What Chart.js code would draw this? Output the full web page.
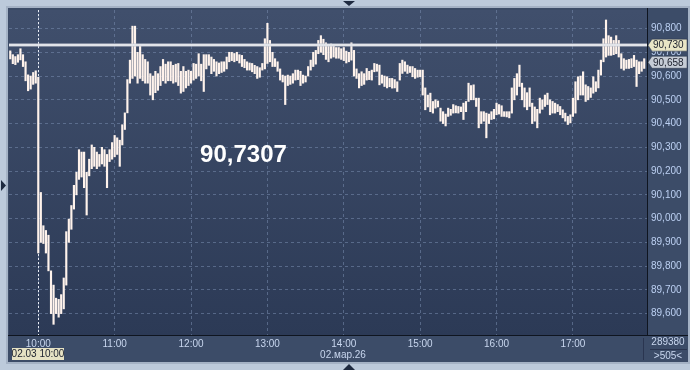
<!DOCTYPE html>
<html>
<head>
<meta charset="utf-8">
<script src="https://cdn.jsdelivr.net/npm/chart.js@4.4.1/dist/chart.umd.min.js"></script>
<style>
  html, body { margin: 0; padding: 0; background: #bccadb; }
  canvas { display: block; }
</style>
</head>
<body>
<canvas id="chart" width="690" height="370"></canvas>
<script>
// minutes counted from 10:00, one bar every 2 minutes
const firstBarMinute = -22;
const barStep = 2;

const lows = [
  90.672, 90.652, 90.648, 90.658, 90.668, 90.640, 90.580, 90.538, 90.545, 90.565,
  90.570, 89.855, 89.900, 89.895, 89.855, 89.780, 89.600, 89.555, 89.600, 89.585,
  89.600, 89.620, 89.720, 89.900, 89.955, 90.040, 90.100, 90.165, 90.175, 90.130,
  90.015, 90.180, 90.210, 90.220, 90.210, 90.220, 90.230, 90.220, 90.130, 90.240,
  90.250, 90.260, 90.270, 90.220, 90.310, 90.375, 90.445, 90.570, 90.590, 90.600,
  90.570, 90.590, 90.580, 90.570, 90.570, 90.520, 90.500, 90.530, 90.540, 90.560,
  90.580, 90.570, 90.580, 90.580, 90.570, 90.575, 90.560, 90.528, 90.535, 90.550,
  90.560, 90.570, 90.583, 90.590, 90.600, 90.580, 90.535, 90.630, 90.645, 90.610,
  90.620, 90.600, 90.610, 90.615, 90.620, 90.630, 90.660, 90.665, 90.660, 90.665,
  90.655, 90.640, 90.635, 90.625, 90.625, 90.618, 90.610, 90.590, 90.595, 90.625,
  90.630, 90.653, 90.660, 90.640, 90.640, 90.620, 90.583, 90.575, 90.480, 90.560,
  90.565, 90.570, 90.583, 90.585, 90.560, 90.570, 90.575, 90.600, 90.625, 90.640,
  90.650, 90.694, 90.700, 90.690, 90.670, 90.660, 90.675, 90.680, 90.675, 90.675,
  90.670, 90.665, 90.655, 90.660, 90.667, 90.600, 90.590, 90.550, 90.560, 90.565,
  90.583, 90.585, 90.583, 90.618, 90.620, 90.563, 90.570, 90.556, 90.550, 90.555,
  90.549, 90.550, 90.535, 90.583, 90.611, 90.620, 90.611, 90.615, 90.597, 90.590,
  90.595, 90.597, 90.520, 90.458, 90.470, 90.450, 90.444, 90.465, 90.470, 90.410,
  90.400, 90.390, 90.430, 90.435, 90.444, 90.445, 90.444, 90.450, 90.417, 90.450,
  90.493, 90.500, 90.500, 90.472, 90.382, 90.400, 90.410, 90.340, 90.400, 90.417,
  90.420, 90.437, 90.440, 90.430, 90.430, 90.428, 90.424, 90.444, 90.500, 90.520,
  90.556, 90.500, 90.470, 90.458, 90.472, 90.400, 90.410, 90.382, 90.444, 90.460,
  90.472, 90.480, 90.437, 90.444, 90.444, 90.450, 90.437, 90.424, 90.410, 90.396,
  90.403, 90.430, 90.444, 90.500, 90.520, 90.520, 90.493, 90.500, 90.510, 90.528,
  90.535, 90.550, 90.604, 90.660, 90.680, 90.687, 90.687, 90.690, 90.694, 90.680,
  90.632, 90.625, 90.632, 90.632, 90.635, 90.640, 90.556, 90.610, 90.620, 90.632
];

const highs = [
  90.706, 90.690, 90.682, 90.690, 90.715, 90.690, 90.660, 90.605, 90.600, 90.615,
  90.622, 90.595, 90.110, 89.970, 89.950, 89.930, 89.780, 89.720, 89.665, 89.660,
  89.680, 89.750, 89.945, 89.998, 90.055, 90.140, 90.195, 90.290, 90.280, 90.280,
  90.195, 90.250, 90.310, 90.300, 90.280, 90.270, 90.300, 90.290, 90.270, 90.290,
  90.320, 90.350, 90.340, 90.330, 90.395, 90.445, 90.585, 90.667, 90.810, 90.810,
  90.700, 90.730, 90.690, 90.670, 90.660, 90.610, 90.600, 90.620, 90.610, 90.640,
  90.670, 90.650, 90.660, 90.660, 90.645, 90.650, 90.653, 90.620, 90.640, 90.620,
  90.625, 90.620, 90.653, 90.650, 90.694, 90.650, 90.690, 90.690, 90.690, 90.680,
  90.670, 90.660, 90.655, 90.660, 90.660, 90.680, 90.700, 90.700, 90.695, 90.700,
  90.690, 90.687, 90.670, 90.660, 90.655, 90.653, 90.645, 90.640, 90.635, 90.653,
  90.757, 90.822, 90.750, 90.700, 90.673, 90.660, 90.630, 90.604, 90.600, 90.604,
  90.600, 90.610, 90.625, 90.625, 90.620, 90.604, 90.600, 90.640, 90.667, 90.700,
  90.708, 90.750, 90.770, 90.755, 90.740, 90.730, 90.735, 90.730, 90.720, 90.720,
  90.715, 90.720, 90.705, 90.700, 90.740, 90.708, 90.630, 90.610, 90.618, 90.610,
  90.632, 90.620, 90.625, 90.653, 90.650, 90.646, 90.604, 90.600, 90.597, 90.590,
  90.590, 90.585, 90.576, 90.653, 90.667, 90.660, 90.646, 90.640, 90.640, 90.632,
  90.625, 90.625, 90.625, 90.550, 90.520, 90.528, 90.493, 90.500, 90.495, 90.465,
  90.450, 90.440, 90.465, 90.460, 90.480, 90.475, 90.472, 90.470, 90.486, 90.493,
  90.570, 90.560, 90.563, 90.507, 90.507, 90.450, 90.450, 90.444, 90.440, 90.450,
  90.460, 90.486, 90.480, 90.475, 90.450, 90.450, 90.450, 90.550, 90.590, 90.610,
  90.646, 90.570, 90.550, 90.530, 90.550, 90.486, 90.470, 90.460, 90.507, 90.500,
  90.520, 90.528, 90.500, 90.493, 90.486, 90.480, 90.472, 90.458, 90.444, 90.430,
  90.437, 90.507, 90.576, 90.597, 90.600, 90.618, 90.563, 90.556, 90.550, 90.597,
  90.576, 90.625, 90.667, 90.757, 90.836, 90.770, 90.764, 90.750, 90.770, 90.750,
  90.694, 90.673, 90.667, 90.670, 90.673, 90.687, 90.667, 90.660, 90.660, 90.673
];

const hourTicks = [0, 60, 120, 180, 240, 300, 360, 420];
const hourLabels = ['10:00', '11:00', '12:00', '13:00', '14:00', '15:00', '16:00', '17:00'];
const priceTicks = [89.6, 89.7, 89.8, 89.9, 90.0, 90.1, 90.2, 90.3, 90.4, 90.5, 90.6, 90.7, 90.8];

const levelPrice = 90.730;
const lastPrice = 90.658;
const bigValue = '90,7307';
const dateLabel = '02.мар.26';
const cursorLabel = '02.03 10:00';
const volumeText = '289380';
const countText = '>505<';

const FONT = "'Liberation Sans', Arial, sans-serif";
const fmt = v => v.toFixed(3).replace('.', ',');

const bars = lows.map((lo, i) => ({ x: firstBarMinute + i * barStep, y: [lo, highs[i]] }));

function tri(c, pts, color) {
  c.fillStyle = color;
  c.beginPath();
  c.moveTo(pts[0], pts[1]);
  c.lineTo(pts[2], pts[3]);
  c.lineTo(pts[4], pts[5]);
  c.closePath();
  c.fill();
}

function priceTag(c, y, text, bg) {
  c.fillStyle = bg;
  c.beginPath();
  c.moveTo(648, y);
  c.lineTo(652, y - 6);
  c.lineTo(687, y - 6);
  c.lineTo(687, y + 6);
  c.lineTo(652, y + 6);
  c.closePath();
  c.fill();
  c.strokeStyle = 'rgba(40,50,70,0.5)';
  c.lineWidth = 1;
  c.stroke();
  c.fillStyle = '#1b1f2c';
  c.font = '10px ' + FONT;
  c.textAlign = 'left';
  c.textBaseline = 'middle';
  c.fillText(text, 653, y + 0.5);
}

const frame = {
  id: 'frame',
  beforeDraw(chart) {
    const c = chart.ctx, a = chart.chartArea;
    c.save();
    c.fillStyle = '#bccadb';
    c.fillRect(0, 0, 690, 370);
    c.fillStyle = '#a4b2c5';
    c.fillRect(6, 6, 684, 358);
    c.fillStyle = '#3c4c68';
    c.fillRect(8, 8, 680, 354);
    const g = c.createLinearGradient(0, a.top, 0, a.bottom);
    g.addColorStop(0, '#404f6c');
    g.addColorStop(1, '#2c3a56');
    c.fillStyle = g;
    c.fillRect(a.left, a.top, a.right - a.left, a.bottom - a.top);
    c.restore();
  },
  beforeDatasetsDraw(chart) {
    const c = chart.ctx, a = chart.chartArea;
    const x = Math.round(chart.scales.x.getPixelForValue(0)) + 0.5;
    c.save();
    c.strokeStyle = '#e8ecf4';
    c.lineWidth = 1;
    c.setLineDash([2, 2]);
    c.beginPath();
    c.moveTo(x, a.top);
    c.lineTo(x, a.bottom);
    c.stroke();
    c.restore();
  },
  afterDraw(chart) {
    const c = chart.ctx, a = chart.chartArea, ys = chart.scales.y;
    c.save();
    // level line
    const ly = ys.getPixelForValue(levelPrice);
    c.fillStyle = '#c4c8d2';
    c.fillRect(a.left, Math.round(ly) - 1.5, a.right - a.left, 3);
    c.fillStyle = '#ffffff';
    c.fillRect(a.left, Math.round(ly) - 0.5, a.right - a.left, 1);

    // separators
    c.fillStyle = '#0f1520';
    c.fillRect(a.right, 8, 1, a.bottom - 8);
    c.fillRect(8, a.bottom, 680, 1);
    c.fillStyle = '#2a3550';
    c.fillRect(643, a.bottom + 3, 1, 22);
    c.fillRect(650, 349, 37, 1);

    // price tags on the axis
    priceTag(c, ys.getPixelForValue(lastPrice), fmt(lastPrice), '#c6ccd6');
    priceTag(c, ly, fmt(levelPrice), '#e9e5c6');

    // big value
    c.fillStyle = '#ffffff';
    c.font = 'bold 24px "Liberation Sans", Arial, sans-serif';
    c.textAlign = 'center';
    c.textBaseline = 'middle';
    c.fillText(bigValue, 243.5, 155);

    // bottom texts
    c.font = '10px ' + FONT;
    c.fillStyle = '#c8d6ee';
    c.fillText(dateLabel, 343, 355.5);
    c.fillText(volumeText, 668, 342.5);
    c.fillText(countText, 668, 356);

    c.fillStyle = '#e6e2c4';
    c.fillRect(12, 348, 52, 12);
    c.fillStyle = '#1b1f2c';
    c.fillText(cursorLabel, 38, 354.5);

    // small edge markers
    tri(c, [343, 1, 355, 1, 349, 6], '#1e2a40');
    tri(c, [1, 180, 1, 191, 6, 185.5], '#1e2a40');
    tri(c, [343, 370, 355, 370, 349, 364], '#1e2a40');
    c.restore();
  }
};

const gridColor = 'rgba(120,140,175,0.55)';

new Chart(document.getElementById('chart'), {
  type: 'bar',
  data: {
    datasets: [{
      data: bars,
      backgroundColor: '#fff3ec',
      borderWidth: 0,
      barThickness: 1.5,
      grouped: false
    }]
  },
  options: {
    responsive: false,
    animation: false,
    devicePixelRatio: 1,
    layout: { padding: { left: 9, top: 8, right: 2, bottom: 8 } },
    plugins: { legend: { display: false }, tooltip: { enabled: false } },
    scales: {
      x: {
        type: 'linear',
        min: -23,
        max: 478.2,
        offset: false,
        afterBuildTicks: s => { s.ticks = hourTicks.map(v => ({ value: v })); },
        afterFit: s => { s.height = 27; },
        grid: { color: gridColor, offset: false, drawTicks: false },
        border: { display: false, dash: [3, 3] },
        ticks: {
          color: '#c8d6ee',
          font: { family: FONT, size: 10 },
          padding: 3,
          maxRotation: 0,
          autoSkip: false,
          callback: (v, i) => hourLabels[i]
        }
      },
      y: {
        position: 'right',
        min: 89.51,
        max: 90.878,
        afterBuildTicks: s => { s.ticks = priceTicks.map(v => ({ value: v })); },
        afterFit: s => { s.width = 41; },
        grid: { color: gridColor, drawTicks: false },
        border: { display: false, dash: [3, 3] },
        ticks: {
          color: '#bcd0f2',
          font: { family: FONT, size: 10 },
          padding: 4,
          callback: v => fmt(v)
        }
      }
    }
  },
  plugins: [frame]
});
</script>
</body>
</html>
